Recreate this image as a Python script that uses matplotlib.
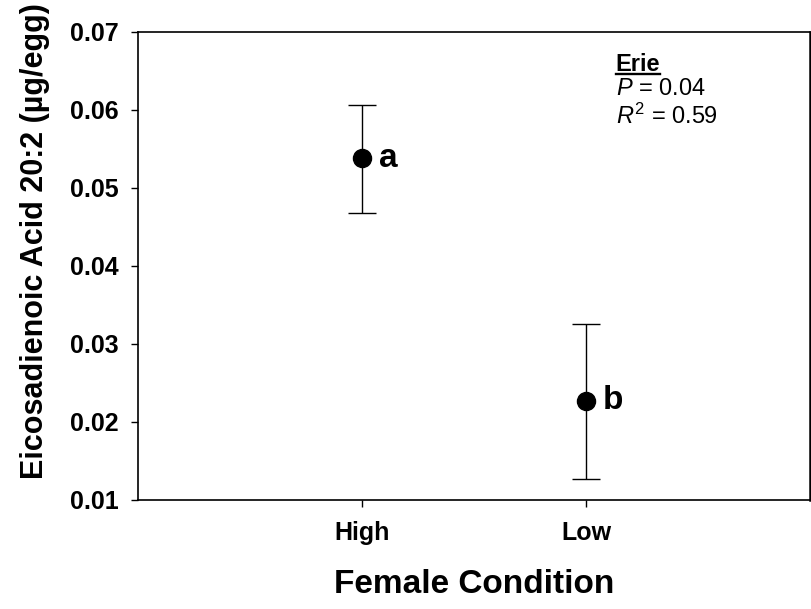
import matplotlib
matplotlib.use("Agg")
import matplotlib.pyplot as plt
from matplotlib.lines import Line2D

plt.rcParams["font.family"] = ["Liberation Sans", "DejaVu Sans"]
plt.rcParams["mathtext.fontset"] = "custom"
plt.rcParams["mathtext.it"] = "Liberation Sans:italic"
plt.rcParams["mathtext.rm"] = "Liberation Sans"

conditions = ["High", "Low"]
means = [0.0538, 0.0227]
err_upper = [0.0606, 0.0325]
err_lower = [0.0468, 0.0127]
letters = ["a", "b"]

xpos = [1, 2]
yerr = [[m - lo for m, lo in zip(means, err_lower)],
        [hi - m for m, hi in zip(means, err_upper)]]

fig = plt.figure(figsize=(8.12, 6.09), dpi=100)
ax = fig.add_axes([0.170, 0.179, 0.828, 0.769])

ax.errorbar(xpos, means, yerr=yerr, fmt="o", color="black", ms=13,
            ecolor="black", elinewidth=1, capsize=10, capthick=1)
for x, m, lab in zip(xpos, means, letters):
    ax.annotate(lab, (x, m), xytext=(12, 0), textcoords="offset points",
                ha="left", va="center", fontsize=24, fontweight="bold")

ax.set_xlim(0, 3)
ax.set_ylim(0.01, 0.07)
ax.set_xticks(xpos)
ax.set_xticklabels(conditions)
ax.set_yticks([0.01, 0.02, 0.03, 0.04, 0.05, 0.06, 0.07])
ax.set_yticklabels([f"{v:.2f}" for v in ax.get_yticks()])
ax.tick_params(direction="out", length=5, width=1, labelsize=18)
ax.tick_params(axis="y", pad=9)
ax.tick_params(axis="x", pad=10)
for lbl in ax.get_xticklabels() + ax.get_yticklabels():
    lbl.set_fontweight("bold")
for sp in ax.spines.values():
    sp.set_linewidth(1.2)
ax.spines["right"].set_linewidth(1.8)

ax.set_xlabel("Female Condition", fontsize=24, fontweight="bold")
ax.set_ylabel("Eicosadienoic Acid 20:2 (µg/egg)", fontsize=22, fontweight="bold")
ax.xaxis.set_label_coords(0.5, -0.147)
ax.yaxis.set_label_coords(-0.131, 0.553)

note_x = 2.131
t = ax.text(note_x, 0.06500, "Erie", fontsize=17, fontweight="bold", ha="left", va="baseline")
ax.text(note_x, 0.06192, r"$P$ = 0.04", fontsize=17, ha="left", va="baseline")
ax.text(note_x, 0.05821, r"$R^2$ = 0.59", fontsize=17, ha="left", va="baseline")

# underline for "Erie", just under its baseline
fig.canvas.draw()
bb = t.get_window_extent()
base_y = ax.transData.transform((note_x, 0.06500))[1] - 3
fig.add_artist(Line2D([bb.x0, bb.x1], [base_y, base_y], transform=None,
                      color="black", lw=1.7))

fig.savefig("out.png", dpi=100)
